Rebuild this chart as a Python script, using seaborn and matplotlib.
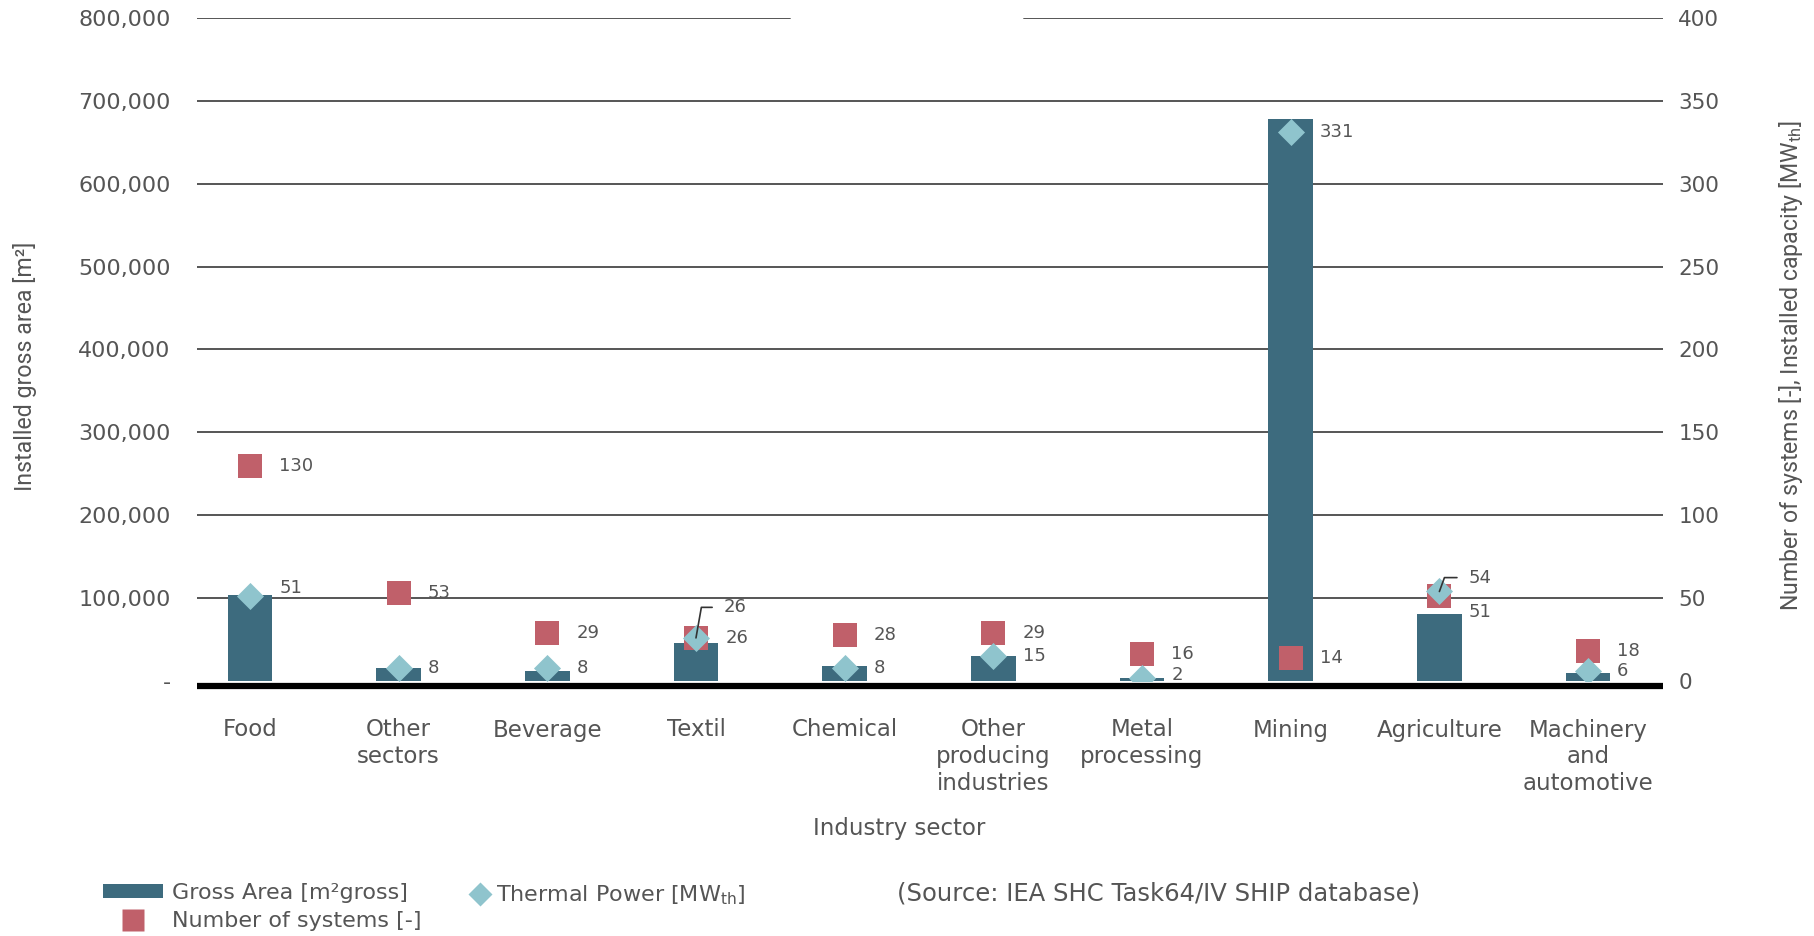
import numpy as np
import pandas as pd
import matplotlib
matplotlib.use("Agg")
import matplotlib.pyplot as plt
import matplotlib.transforms as mtransforms
import seaborn as sns
from matplotlib.patches import Patch
from matplotlib.lines import Line2D
from matplotlib.ticker import FuncFormatter

# data
sectors = ["Food", "Other\nsectors", "Beverage", "Textil", "Chemical",
           "Other\nproducing\nindustries", "Metal\nprocessing", "Mining",
           "Agriculture", "Machinery\nand\nautomotive"]
gross_area = [104000, 16000, 12000, 46000, 18000, 30000, 4000, 678000, 81000, 10000]
num_systems = [130, 53, 29, 26, 28, 29, 16, 14, 51, 18]
thermal_power = [51, 8, 8, 26, 8, 15, 2, 331, 54, 6]

bar_col = "#3d6b7e"
sq_col = "#c0606a"
dia_col = "#8fc4cd"
txt_col = "#555555"
grid_col = "#555555"

sns.set_style("white")
plt.rcParams["font.family"] = ["DejaVu Sans"]
plt.rcParams["text.color"] = txt_col
plt.rcParams["xtick.color"] = txt_col
plt.rcParams["ytick.color"] = txt_col
plt.rcParams["axes.labelcolor"] = txt_col

df = pd.DataFrame({"sector": sectors, "area": gross_area,
                   "systems": num_systems, "thermal": thermal_power})
df["pos"] = np.arange(len(df))

W, H = 1815, 936
fig = plt.figure(figsize=(W / 100, H / 100), dpi=100)
ax = fig.add_axes([197 / W, 1 - 681 / H, (1663 - 197) / W, (681 - 18) / H])

sns.barplot(data=df, x="sector", y="area", color=bar_col, saturation=1,
            width=0.30, linewidth=0, ax=ax, zorder=2)

ax.set_ylim(0, 800000)
ax.set_yticks(range(0, 800001, 100000))
ax.yaxis.set_major_formatter(FuncFormatter(lambda v, p: "-" if v == 0 else f"{v:,.0f}"))
for v in range(100000, 800000, 100000):
    ax.axhline(v, color=grid_col, lw=1.4, zorder=0)
# top line has a gap in the original
ax.axhline(800000, xmin=0, xmax=0.4045, color=grid_col, lw=1.4, zorder=0)
ax.axhline(800000, xmin=0.564, xmax=1, color=grid_col, lw=1.4, zorder=0)

# thick black baseline, sitting just under zero
trans = ax.get_yaxis_transform() + mtransforms.ScaledTranslation(0, -3.5 / 72, fig.dpi_scale_trans)
ax.plot([0, 1], [0, 0], transform=trans, color="black", lw=4.5,
        solid_capstyle="butt", clip_on=False, zorder=4)

ax2 = ax.twinx()
sns.scatterplot(data=df, x="pos", y="systems", marker="s", s=300, color=sq_col,
                linewidth=0, ax=ax2, zorder=3)
sns.scatterplot(data=df, x="pos", y="thermal", marker="D", s=190, color=dia_col,
                linewidth=0, ax=ax2, zorder=4)
ax2.set_ylim(0, 400)
ax2.set_yticks(range(0, 401, 50))
ax.set_xlim(-0.356, 9.504)

# value labels
lab_kw = dict(textcoords="offset points", fontsize=13, color=txt_col,
              ha="left", va="center", zorder=6)
sys_off = {"Agriculture": (21, -11)}
th_off = {"Food": (21, 6), "Metal\nprocessing": (21, 2)}
leader = {"Textil": (20, 22, 80), "Agriculture": (21, 10, 70)}
for i, r in df.iterrows():
    dx, dy = sys_off.get(r.sector, (21, 0))
    ax2.annotate(str(r.systems), (r.pos, r.systems), xytext=(dx, dy), **lab_kw)
    if r.sector in leader:
        dx, dy, ang = leader[r.sector]
        ax2.annotate(str(r.thermal), (r.pos, r.thermal), xytext=(dx, dy),
                     arrowprops=dict(arrowstyle="-", color="#333333", lw=1.2,
                                     shrinkA=6, shrinkB=0, relpos=(0, 0.5),
                                     connectionstyle=f"angle,angleA=0,angleB={ang},rad=0"),
                     **lab_kw)
    else:
        dx, dy = th_off.get(r.sector, (21, 0))
        ax2.annotate(str(r.thermal), (r.pos, r.thermal), xytext=(dx, dy), **lab_kw)

for a in (ax, ax2):
    for s in a.spines.values():
        s.set_visible(False)

ax.tick_params(axis="x", length=0, pad=27, labelsize=16.5)
ax.tick_params(axis="y", length=0, pad=19, labelsize=16)
ax2.tick_params(axis="y", length=0, pad=11, labelsize=15.5)

ax.set_xlabel("Industry sector", fontsize=16.5)
ax.xaxis.set_label_coords(0.479, -0.205)
ax.set_ylabel("Installed gross area [m²]", fontsize=16.7, family="Roboto")
ax.yaxis.set_label_coords(-0.109, 0.475)
ax2.set_xlabel("")
ax2.set_ylabel("Number of systems [-], Installed capacity [MW$_\\mathregular{th}$]",
               fontsize=16.7, family="Roboto")
ax2.yaxis.set_label_coords(1.078, 0.475)

leg_kw = dict(loc="upper left", frameon=False, fontsize=16, handleheight=0.6,
              labelspacing=0.37, borderpad=0, borderaxespad=0)
h_left = [
    Patch(facecolor=bar_col, edgecolor="none", label="Gross Area [m²gross]"),
    Line2D([], [], marker="s", ls="none", ms=16, mfc=sq_col, mec="none",
           label="Number of systems [-]"),
]
leg1 = fig.legend(handles=h_left, bbox_to_anchor=(0.057, 0.0566),
                  handlelength=2.7, handletextpad=0.4, **leg_kw)
h_right = [
    Line2D([], [], marker="D", ls="none", ms=12, mfc=dia_col, mec="none",
           label="Thermal Power [MW$_\\mathregular{th}$]"),
]
fig.legend(handles=h_right, bbox_to_anchor=(469 / W, 0.0566),
           handlelength=1.0, handletextpad=0.2, **leg_kw)

fig.text(897 / W, 1 - 894 / H, "(Source: IEA SHC Task64/IV SHIP database)",
         fontsize=17.5, ha="left", va="center", color=txt_col)

fig.savefig("out.png", dpi=100)
